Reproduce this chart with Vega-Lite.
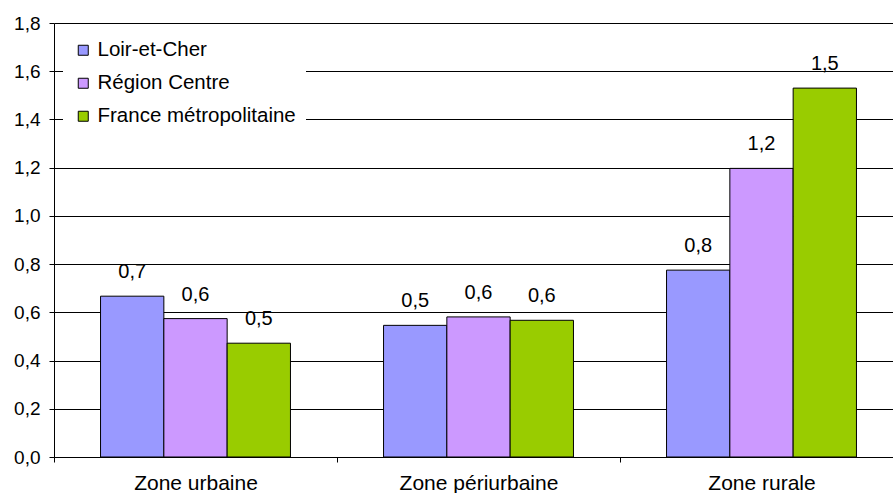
{
  "$schema": "https://vega.github.io/schema/vega-lite/v6.json",
  "width": 839,
  "height": 434,
  "autosize": {"type": "none"},
  "padding": {"left": 54, "top": 23, "right": 0, "bottom": 36},
  "background": "white",
  "config": {
    "locale": {"number": {"decimal": ",", "thousands": " ", "grouping": [3], "currency": ["", " €"]}},
    "view": {"stroke": null},
    "font": "Liberation Sans",
    "axis": {
      "labelFont": "Liberation Sans",
      "labelFontSize": 19,
      "labelColor": "black",
      "domainColor": "black",
      "tickColor": "black",
      "gridColor": "black",
      "gridOpacity": 1,
      "domainWidth": 1,
      "tickWidth": 1,
      "gridWidth": 1,
      "tickSize": 5,
      "labelLimit": 0,
      "title": null
    }
  },
  "data": {
    "values": [
      {"zone": "Zone urbaine", "territoire": "Loir-et-Cher", "valeur": 0.667},
      {"zone": "Zone urbaine", "territoire": "Région Centre", "valeur": 0.574},
      {"zone": "Zone urbaine", "territoire": "France métropolitaine", "valeur": 0.472},
      {"zone": "Zone périurbaine", "territoire": "Loir-et-Cher", "valeur": 0.546},
      {"zone": "Zone périurbaine", "territoire": "Région Centre", "valeur": 0.581},
      {"zone": "Zone périurbaine", "territoire": "France métropolitaine", "valeur": 0.567},
      {"zone": "Zone rurale", "territoire": "Loir-et-Cher", "valeur": 0.775},
      {"zone": "Zone rurale", "territoire": "Région Centre", "valeur": 1.197},
      {"zone": "Zone rurale", "territoire": "France métropolitaine", "valeur": 1.53}
    ]
  },
  "encoding": {
    "x": {
      "field": "zone",
      "type": "nominal",
      "sort": ["Zone urbaine", "Zone périurbaine", "Zone rurale"],
      "scale": {"range": [0, 849], "paddingInner": 0, "paddingOuter": 0},
      "axis": {"labelAngle": 0, "tickBand": "extent", "grid": false, "labelPadding": 10, "labelBaseline": "top", "labelFontSize": 21}
    },
    "xOffset": {
      "field": "territoire",
      "type": "nominal",
      "sort": ["Loir-et-Cher", "Région Centre", "France métropolitaine"],
      "scale": {"paddingInner": 0, "paddingOuter": 0.735}
    },
    "y": {
      "field": "valeur",
      "type": "quantitative",
      "scale": {"domain": [0, 1.8], "nice": false, "zero": true},
      "axis": {"values": [0, 0.2, 0.4, 0.6, 0.8, 1.0, 1.2, 1.4, 1.6, 1.8], "format": ".1f", "grid": true, "labelPadding": 9}
    }
  },
  "layer": [
    {
      "mark": {"type": "bar", "stroke": "black", "strokeWidth": 1},
      "encoding": {
        "color": {
          "field": "territoire",
          "type": "nominal",
          "sort": ["Loir-et-Cher", "Région Centre", "France métropolitaine"],
          "scale": {
            "domain": ["Loir-et-Cher", "Région Centre", "France métropolitaine"],
            "range": ["#9999FF", "#CC99FF", "#99CC00"]
          },
          "legend": {
            "title": null,
            "orient": "none",
            "legendX": 9,
            "legendY": 7,
            "fillColor": "white",
            "padding": 10,
            "labelFont": "Liberation Sans",
            "labelFontSize": 20.5,
            "labelColor": "black",
            "labelLimit": 0,
            "symbolType": "square",
            "symbolSize": 100,
            "symbolStrokeColor": "black",
            "symbolStrokeWidth": 1,
            "symbolOpacity": 1,
            "rowPadding": 12,
            "labelOffset": 4
          }
        }
      }
    },
    {
      "mark": {"type": "text", "baseline": "middle", "dy": -24, "fontSize": 20, "font": "Liberation Sans", "color": "black"},
      "encoding": {
        "text": {"field": "valeur", "type": "quantitative", "format": ".1f"}
      }
    }
  ]
}
